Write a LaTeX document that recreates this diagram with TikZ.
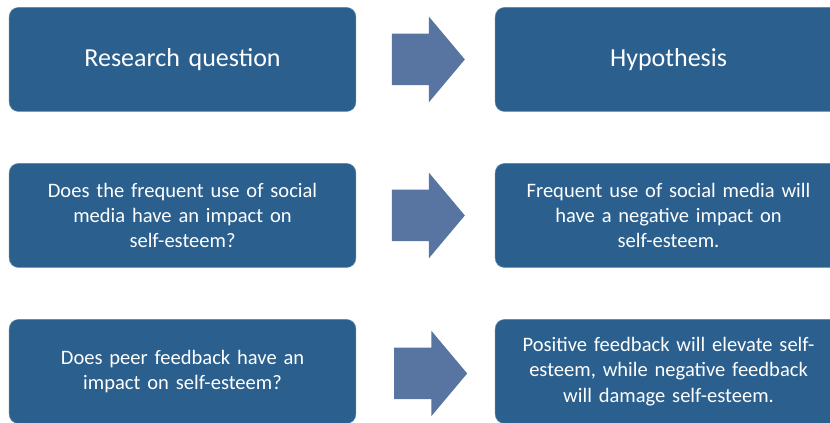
\documentclass[tikz,border=0pt]{standalone}
\usepackage{fontspec}
\setmainfont{Carlito}
\usepackage{tikz}
\usetikzlibrary{shapes.arrows}
\usepackage{xcolor}

\definecolor{boxblue}{RGB}{42,95,142}
\definecolor{arrowblue}{RGB}{88,116,160}

\begin{document}
\begin{tikzpicture}[
    node distance=117pt,
    block/.style={rectangle, draw=boxblue!75!white, line width=0.4pt, fill=boxblue, text=white, text width=240pt, align=center, rounded corners=7pt, minimum width=260pt, minimum height=78pt, inner sep=0pt, font=\fontsize{15.4}{19.1}\selectfont},
    title/.style={block, font=\fontsize{19.5}{23.8}\selectfont},
    bigarrow/.style={single arrow, draw=none, fill=arrowblue, minimum height=54.75pt, minimum width=63.75pt, single arrow head extend=12.75pt, single arrow tip angle=100, inner xsep=0pt, inner ysep=19.1pt}
]
    \clip (0,0) rectangle (622.5pt,-317.25pt);

    \node [title] (question) at (136.9pt,-44.6pt) {Research question};
    \node [title, right of=question, xshift=247.5pt] (hypo) {Hypothesis};
    \node [block, below of=question] (q1) {Does the frequent use of social\\media have an impact on\\self-esteem?};
    \node [block, below of=hypo] (h1) {Frequent use of social media will\\have a negative impact on\\self-esteem.};
    \node [block, below of=q1] (q2) {Does peer feedback have an\\impact on self-esteem?};
    \node [block, below of=h1] (h2) {Positive feedback will elevate self-\\esteem, while negative feedback\\will damage self-esteem.};

    % block arrows between the two columns
    \node [bigarrow, right of=question, xshift=59.25pt] (arr0) {};
    \node [bigarrow, right of=q1, xshift=59.25pt] (arr1) {};
    \node [bigarrow, right of=q2, xshift=61pt, yshift=-1.5pt] (arr2) {};
\end{tikzpicture}
\end{document}
